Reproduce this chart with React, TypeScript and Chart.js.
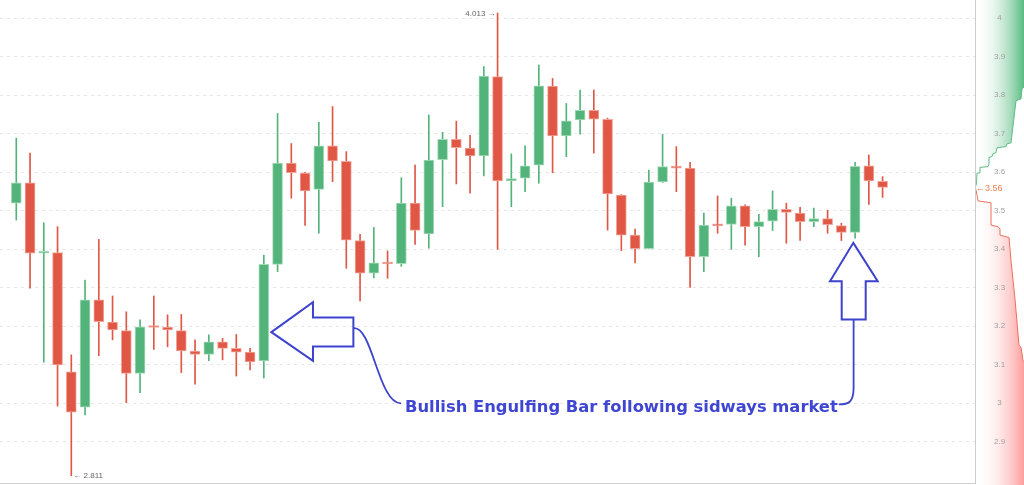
import React, { useEffect, useRef } from "react";
import { Chart, registerables } from "chart.js";

Chart.register(...registerables);

// ---- OHLC data ----
const opens = [
  3.519, 3.572, 3.389, 3.391, 3.081, 2.989, 3.268, 3.21, 3.188, 3.077,
  3.2, 3.197, 3.188, 3.135, 3.126, 3.159, 3.142, 3.132, 3.109, 3.36,
  3.623, 3.597, 3.555, 3.668, 3.628, 3.422, 3.337, 3.365, 3.362, 3.519,
  3.439, 3.632, 3.685, 3.662, 3.642, 3.848, 3.577, 3.584, 3.618, 3.823,
  3.694, 3.735, 3.76, 3.737, 3.54, 3.436, 3.401, 3.574, 3.614, 3.61,
  3.38, 3.464, 3.464, 3.512, 3.458, 3.472, 3.503, 3.493, 3.471, 3.479,
  3.461, 3.443, 3.616, 3.576,
];
const highs = [
  3.688, 3.649, 3.468, 3.458, 3.125, 3.319, 3.425, 3.278, 3.237, 3.216,
  3.278, 3.229, 3.23, 3.164, 3.177, 3.168, 3.178, 3.142, 3.384, 3.752,
  3.674, 3.599, 3.729, 3.77, 3.653, 3.438, 3.456, 3.395, 3.585, 3.618,
  3.748, 3.703, 3.732, 3.695, 3.874, 4.013, 3.647, 3.668, 3.878, 3.843,
  3.778, 3.813, 3.813, 3.74, 3.541, 3.452, 3.605, 3.698, 3.666, 3.625,
  3.493, 3.538, 3.532, 3.515, 3.49, 3.551, 3.519, 3.508, 3.506, 3.501,
  3.467, 3.625, 3.644, 3.588,
];
const lows = [
  3.475, 3.298, 3.106, 2.992, 2.811, 2.969, 3.123, 3.164, 3.001, 3.027,
  3.139, 3.146, 3.079, 3.049, 3.11, 3.112, 3.07, 3.086, 3.065, 3.341,
  3.532, 3.461, 3.441, 3.575, 3.35, 3.265, 3.325, 3.324, 3.355, 3.412,
  3.402, 3.51, 3.569, 3.545, 3.59, 3.399, 3.51, 3.549, 3.571, 3.598,
  3.64, 3.698, 3.649, 3.449, 3.396, 3.364, 3.4, 3.573, 3.549, 3.3,
  3.341, 3.441, 3.399, 3.41, 3.38, 3.448, 3.415, 3.422, 3.458, 3.441,
  3.422, 3.428, 3.516, 3.534,
];
const closes = [
  3.572, 3.389, 3.393, 3.099, 2.976, 3.268, 3.211, 3.19, 3.077, 3.198,
  3.196, 3.19, 3.135, 3.126, 3.159, 3.142, 3.132, 3.107, 3.36, 3.623,
  3.598, 3.551, 3.668, 3.629, 3.423, 3.337, 3.364, 3.361, 3.519, 3.448,
  3.631, 3.685, 3.663, 3.642, 3.849, 3.577, 3.583, 3.616, 3.824, 3.694,
  3.733, 3.76, 3.737, 3.543, 3.436, 3.401, 3.574, 3.614, 3.61, 3.38,
  3.462, 3.46, 3.512, 3.458, 3.471, 3.503, 3.495, 3.471, 3.479, 3.463,
  3.443, 3.615, 3.577, 3.56,
];

// ---- price axis ticks ----
const yTickValues = [2.9, 3.0, 3.1, 3.2, 3.3, 3.4, 3.5, 3.6, 3.7, 3.8, 3.9, 4.0];
const yTickLabels = ["2.9", "3", "3.1", "3.2", "3.3", "3.4", "3.5", "3.6", "3.7", "3.8", "3.9", "4"];

// ---- depth profile (right panel) ----
const askPrices = [3.56, 3.566, 3.572, 3.597, 3.598, 3.612, 3.614, 3.62, 3.638, 3.64, 3.648, 3.65, 3.663, 3.666, 3.673, 3.676, 3.785, 3.79, 3.815, 3.825, 4.1];
const askDepth = [0, 1, 1.5, 2, 5, 5, 13, 14, 14, 17, 18, 21, 22, 31, 32, 36, 41, 46, 47, 50, 60];
const bidPrices = [3.56, 3.553, 3.54, 3.525, 3.52, 3.462, 3.458, 3.452, 3.436, 3.43, 3.37, 3.27, 3.18, 3.15, 3.145, 3.11, 3.1, 2.7];
const bidDepth = [0, 1, 2, 3, 16, 16, 23, 25, 25, 34, 36, 40, 43, 44, 46, 48, 52, 60];

const annotationText = "Bullish Engulfing Bar following sidways market";

const GREEN = "#52b47b";
const GREEN_EDGE = "#a6dbb9";
const RED = "#e05746";
const RED_EDGE = "#f2a598";
const BLUE = "#3d43cc";
const FONT = "'Liberation Sans', Arial, Helvetica, sans-serif";
const NOTE_FONT = "'DejaVu Sans', Verdana, sans-serif";

export default function App() {
  const ref = useRef<HTMLCanvasElement | null>(null);

  useEffect(() => {
    const canvas = ref.current;
    if (!canvas) return;
    const idx = opens.map((_, i) => i);
    const up = idx.map((i) => closes[i] >= opens[i]);

    const depthPlugin = {
      id: "depthProfile",
      beforeDraw(chart: any) {
        const { ctx, chartArea } = chart;
        const ys = chart.scales.y;
        const x0 = chartArea.right;
        const W = chart.width;
        const side = (prices: number[], depth: number[], fill: string, line: string) => {
          const g = ctx.createLinearGradient(x0, 0, W, 0);
          g.addColorStop(0, "rgba(255,255,255,0)");
          g.addColorStop(1, fill);
          ctx.save();
          ctx.beginPath();
          ctx.rect(x0, 0, W - x0, chart.height);
          ctx.clip();
          ctx.beginPath();
          ctx.moveTo(x0, ys.getPixelForValue(prices[0]));
          prices.forEach((p, i) => ctx.lineTo(x0 + depth[i], ys.getPixelForValue(p)));
          ctx.lineTo(x0, ys.getPixelForValue(prices[prices.length - 1]));
          ctx.closePath();
          ctx.fillStyle = g;
          ctx.fill();
          ctx.beginPath();
          prices.forEach((p, i) => {
            const px = x0 + depth[i];
            const py = ys.getPixelForValue(p);
            if (i === 0) ctx.moveTo(px, py);
            else ctx.lineTo(px, py);
          });
          ctx.strokeStyle = line;
          ctx.lineWidth = 1;
          ctx.stroke();
          ctx.restore();
        };
        side(askPrices, askDepth, "rgba(78,184,122,0.95)", "#5cbb84");
        side(bidPrices, bidDepth, "rgba(255,140,140,0.85)", "#e8705f");
      },
    };

    const labelsPlugin = {
      id: "extraLabels",
      afterDraw(chart: any) {
        const { ctx, chartArea } = chart;
        const xs = chart.scales.x;
        const ys = chart.scales.y;
        ctx.save();
        // highest high / lowest low markers
        let hi = 0, lo = 0;
        idx.forEach((i) => {
          if (highs[i] > highs[hi]) hi = i;
          if (lows[i] < lows[lo]) lo = i;
        });
        ctx.font = `8px ${FONT}`;
        ctx.fillStyle = "#666";
        ctx.textBaseline = "middle";
        ctx.textAlign = "right";
        ctx.fillText(`${highs[hi].toFixed(3)} \u2192`, xs.getPixelForValue(hi) - 2, ys.getPixelForValue(highs[hi]) + 1);
        ctx.textAlign = "left";
        ctx.fillText(`\u2190 ${lows[lo].toFixed(3)}`, xs.getPixelForValue(lo) + 2, ys.getPixelForValue(lows[lo]));

        // last price marker
        const last = closes[closes.length - 1];
        const ly = ys.getPixelForValue(last);
        ctx.fillStyle = "#ee8250";
        ctx.font = `9px ${FONT}`;
        ctx.textAlign = "left";
        ctx.fillText(`\u2190${last.toFixed(2)}`, chartArea.right + 1, ly + 1);

        // annotations
        ctx.strokeStyle = BLUE;
        ctx.lineWidth = 2;
        ctx.lineJoin = "miter";
        // left arrow, tip at engulfing bar
        const tx = xs.getPixelForValue(18.55);
        const ty = ys.getPixelForValue(3.184);
        ctx.beginPath();
        ctx.moveTo(tx, ty);
        ctx.lineTo(tx + 41.6, ty - 30);
        ctx.lineTo(tx + 41.6, ty - 14.6);
        ctx.lineTo(tx + 82, ty - 14.6);
        ctx.lineTo(tx + 82, ty + 14.4);
        ctx.lineTo(tx + 41.6, ty + 14.4);
        ctx.lineTo(tx + 41.6, ty + 28.7);
        ctx.closePath();
        ctx.stroke();

        // up arrow
        const ux = xs.getPixelForValue(60.87);
        const uy = ys.getPixelForValue(3.416);
        ctx.beginPath();
        ctx.moveTo(ux, uy);
        ctx.lineTo(ux + 24.4, uy + 38.3);
        ctx.lineTo(ux + 12.4, uy + 38.3);
        ctx.lineTo(ux + 12.4, uy + 76.6);
        ctx.lineTo(ux - 11.6, uy + 76.6);
        ctx.lineTo(ux - 11.6, uy + 38.3);
        ctx.lineTo(ux - 23.3, uy + 38.3);
        ctx.closePath();
        ctx.stroke();

        // text
        const txX = xs.getPixelForValue(28.27);
        const txY = ys.getPixelForValue(2.977);
        ctx.font = `bold 16.35px ${NOTE_FONT}`;
        ctx.fillStyle = "#3f46d2";
        ctx.textAlign = "left";
        ctx.textBaseline = "alphabetic";
        ctx.fillText(annotationText, txX, txY);
        const tw = ctx.measureText(annotationText).width;

        // connector curves
        ctx.lineWidth = 1.8;
        ctx.beginPath();
        ctx.moveTo(tx + 82, ty - 4);
        ctx.bezierCurveTo(tx + 101, ty - 7, tx + 107, txY - 8, txX - 4, txY - 8.5);
        ctx.stroke();
        ctx.beginPath();
        ctx.moveTo(ux + 0.3, uy + 76.6);
        ctx.lineTo(ux + 0.3, txY - 24);
        ctx.bezierCurveTo(ux + 0.3, txY - 9, ux - 5, txY - 7.5, Math.min(txX + tw + 1, ux - 12), txY - 7.5);
        ctx.stroke();
        ctx.restore();
      },
    };

    const chart = new Chart(canvas, {
      type: "bar",
      data: {
        datasets: [
          {
            label: "body",
            data: idx.map((i) => ({ x: i, y: [opens[i], closes[i]] })) as any,
            backgroundColor: up.map((u) => (u ? GREEN : RED)),
            borderColor: up.map((u) => (u ? GREEN_EDGE : RED_EDGE)),
            borderWidth: 1,
            borderSkipped: false,
            grouped: false,
            barPercentage: 1,
            categoryPercentage: 1,
            maxBarThickness: 10,
            minBarLength: 2,
          },
          {
            label: "wick",
            data: idx.map((i) => ({ x: i, y: [lows[i], highs[i]] })) as any,
            backgroundColor: up.map((u) => (u ? GREEN : RED)),
            borderWidth: 0,
            grouped: false,
            barPercentage: 1,
            categoryPercentage: 1,
            maxBarThickness: 1,
          },
        ],
      },
      options: {
        responsive: false,
        animation: false,
        events: [],
        layout: { padding: 0 },
        plugins: { legend: { display: false }, tooltip: { enabled: false } },
        scales: {
          x: {
            type: "linear",
            offset: false,
            min: -1.185,
            max: 69.72,
            ticks: { display: false },
            grid: { display: false, offset: false },
            border: { display: true, color: "#cfcfcf", width: 1 },
            afterFit: (s: any) => {
              s.height = 2;
              s.paddingLeft = 0;
              s.paddingRight = 0;
            },
          },
          y: {
            type: "linear",
            position: "right",
            min: 2.7922,
            max: 4.0468,
            afterBuildTicks: (s: any) => {
              s.ticks = yTickValues.map((v) => ({ value: v }));
            },
            afterFit: (s: any) => {
              s.width = 49;
              s.paddingTop = 0;
              s.paddingBottom = 0;
            },
            ticks: {
              callback: (_v: any, i: number) => yTickLabels[i],
              color: "#a0a0a0",
              font: { size: 8, family: FONT },
              crossAlign: "center",
              padding: 19,
            },
            grid: { color: "#e6e6e6", drawTicks: false, lineWidth: 1 },
            border: { display: true, color: "#cccccc", dash: [3, 4] },
          },
        },
      },
      plugins: [depthPlugin, labelsPlugin],
    } as any);

    return () => chart.destroy();
  }, []);

  return (
    <div style={{ position: "absolute", left: 0, top: 0, width: 1024, height: 485, background: "#fff" }}>
      <canvas ref={ref} width={1024} height={485} style={{ display: "block" }} />
    </div>
  );
}
